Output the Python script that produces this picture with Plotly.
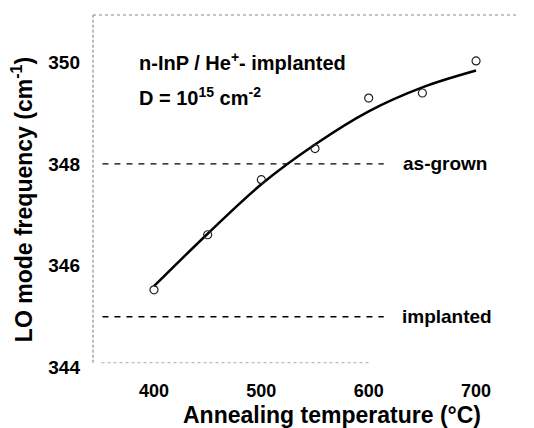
import plotly.graph_objects as go

# Data
temps = [400, 450, 500, 550, 600, 650, 700]
lo_freq = [345.53, 346.61, 347.69, 348.30, 349.29, 349.39, 350.02]
fit_temps = [400, 450, 500, 550, 600, 650, 700]
fit_freq = [345.60, 346.63, 347.60, 348.38, 349.03, 349.50, 349.83]
as_grown = 348.0
implanted = 345.0
ref_x = [352, 614]
x_ticks = [400, 500, 600, 700]
y_ticks = [344, 346, 348, 350]

FONT = "Liberation Sans"
Y0, Y1 = 343.8, 350.92
FRAME_BOTTOM = 344.1

fig = go.Figure()
fig.add_trace(go.Scatter(x=fit_temps, y=fit_freq, mode="lines",
                         line=dict(color="black", width=2.5, shape="spline"),
                         showlegend=False))
fig.add_trace(go.Scatter(x=temps, y=lo_freq, mode="markers",
                         marker=dict(symbol="circle-open", size=8, color="#222",
                                     line=dict(width=1.2)),
                         showlegend=False))
for val in (as_grown, implanted):
    fig.add_trace(go.Scatter(x=ref_x, y=[val, val], mode="lines",
                             line=dict(color="black", width=1.4, dash="6px,6px"),
                             showlegend=False))

fig.add_annotation(x=630, y=as_grown, text="<b>as-grown</b>", showarrow=False,
                   xanchor="left", yanchor="middle", font=dict(family=FONT, size=19, color="black"))
fig.add_annotation(x=629, y=implanted, text="<b>implanted</b>", showarrow=False,
                   xanchor="left", yanchor="middle", font=dict(family=FONT, size=19, color="black"))
fig.add_annotation(x=384, y=350.0, text="<b>n-InP / He<sup>+</sup>- implanted</b>",
                   showarrow=False, xanchor="left", yanchor="middle",
                   font=dict(family=FONT, size=20, color="black"))
fig.add_annotation(x=384, y=349.33, text="<b>D = 10<sup>15</sup> cm<sup>-2</sup></b>",
                   showarrow=False, xanchor="left", yanchor="middle",
                   font=dict(family=FONT, size=20, color="black"))

# axis titles
fig.add_annotation(xref="paper", yref="paper", x=-(93 - 22) / 426, y=0.49,
                   text="<b>LO mode frequency (cm<sup>-1</sup>)</b>", textangle=-90,
                   showarrow=False, xanchor="center", yanchor="middle",
                   font=dict(family=FONT, size=23, color="black"))
fig.add_annotation(xref="paper", yref="paper", x=(332 - 93) / 426, y=-(415 - 378) / 363,
                   text="<b>Annealing temperature (°C)</b>",
                   showarrow=False, xanchor="center", yanchor="middle",
                   font=dict(family=FONT, size=23, color="black"))

# faint dotted frame (scanned look)
fig.add_shape(type="line", xref="paper", yref="y", x0=0, x1=0, y0=FRAME_BOTTOM, y1=Y1,
              line=dict(color="#777", width=1, dash="3px,2px"))
fig.add_shape(type="line", xref="paper", yref="paper", x0=0, x1=1, y0=1, y1=1,
              line=dict(color="#888", width=1, dash="dot"))
fig.add_shape(type="line", xref="paper", yref="y", x0=0.02, x1=0.65, y0=FRAME_BOTTOM, y1=FRAME_BOTTOM,
              line=dict(color="#aaa", width=1, dash="dot"))

fig.update_xaxes(range=[343.2, 740], tickvals=x_ticks, ticktext=[f"<b>{v}</b>" for v in x_ticks],
                 showgrid=False, zeroline=False, showline=False, ticks="",
                 ticklabelstandoff=0,
                 tickfont=dict(family=FONT, size=18, color="black"))
fig.update_yaxes(range=[Y0, Y1], tickvals=y_ticks, ticktext=[f"<b>{v}</b>" for v in y_ticks],
                 showgrid=False, zeroline=False, showline=False, ticks="",
                 ticklabelstandoff=12,
                 tickfont=dict(family=FONT, size=19, color="black"))

# page has an 8px body margin, so the figure is drawn 8px smaller and offset
fig.update_layout(width=526, height=420, margin=dict(l=85, r=15, t=7, b=50),
                  plot_bgcolor="white", paper_bgcolor="white")
fig.write_html("out.html")
